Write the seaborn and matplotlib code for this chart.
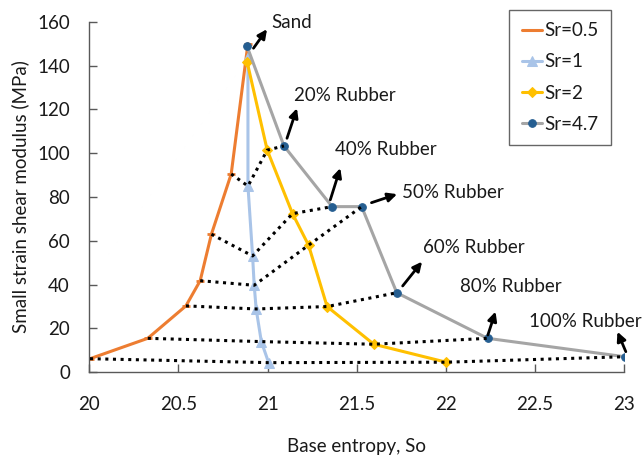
import numpy as np
import pandas as pd
import matplotlib
matplotlib.use("Agg")
import matplotlib.pyplot as plt
import seaborn as sns

sns.set_theme(style="white")
plt.rcParams['font.family'] = ['Lato', 'DejaVu Sans']

# ---- data ----
rubber = ["Sand", "20%", "40%", "50%", "60%", "80%", "100%"]
series = ["Sr=0.5", "Sr=1", "Sr=2", "Sr=4.7"]

x_sr05 = [20.89, 20.796, 20.685, 20.622, 20.542, 20.328, 20.004]
y_sr05 = [150.0, 90.5, 63.0, 41.8, 30.3, 15.5, 6.2]

x_sr1 = [20.89, 20.89, 20.916, 20.925, 20.936, 20.965, 21.006]
y_sr1 = [144.0, 85.0, 53.1, 39.7, 28.9, 14.0, 4.4]

x_sr2 = [20.886, 20.998, 21.14, 21.23, 21.334, 21.596, 22.002]
y_sr2 = [141.4, 101.4, 72.4, 58.0, 30.0, 12.8, 4.6]

x_sr47 = [20.884, 21.092, 21.362, 21.528, 21.725, 22.234, 23.004]
y_sr47 = [149.0, 103.3, 75.6, 75.6, 36.3, 15.5, 7.1]

xs = [x_sr05, x_sr1, x_sr2, x_sr47]
ys = [y_sr05, y_sr1, y_sr2, y_sr47]

rows = []
for s, xv, yv in zip(series, xs, ys):
    for r, a, b in zip(rubber, xv, yv):
        rows.append({"Sr": s, "rubber": r, "x": a, "y": b})
df = pd.DataFrame(rows)

# annotation labels (text, arrow tail, arrow head, text pos) in data units
ann_text = ["Sand", "20% Rubber", "40% Rubber", "50% Rubber", "60% Rubber", "80% Rubber", "100% Rubber"]
ann_tail = [(20.921, 147.9), (21.109, 106.8), (21.352, 78.7), (21.583, 77.4),
            (21.758, 39.4), (22.236, 17.0), (23.01, 9.4)]
ann_head = [(20.997, 156.6), (21.165, 120.5), (21.408, 93.2), (21.727, 81.3),
            (21.867, 50.5), (22.279, 27.7), (22.963, 18.5)]
ann_pos = [(21.019, 159.6), (21.146, 126.2), (21.376, 101.8), (21.755, 82.0),
           (21.871, 56.9), (22.077, 39.1), (22.466, 23.1)]

# ---- styling ----
FS = 13.5
TXT = "#1a1a1a"
line_colors = {"Sr=0.5": "#ED7D31", "Sr=1": "#A9C4E8", "Sr=2": "#FFC000", "Sr=4.7": "#A5A5A5"}
marker_style = {
    "Sr=0.5": dict(marker="_", markersize=6, markerfacecolor="#ED7D31", markeredgecolor="#ED7D31", markeredgewidth=2),
    "Sr=1": dict(marker="^", markersize=7, markerfacecolor="#A9C4E8", markeredgecolor="#A9C4E8"),
    "Sr=2": dict(marker="D", markersize=5.5, markerfacecolor="#FFC000", markeredgecolor="#FFC000"),
    "Sr=4.7": dict(marker="o", markersize=5.5, markerfacecolor="#255E91", markeredgecolor="#255E91"),
}

fig = plt.figure(figsize=(6.44, 4.55), dpi=100)
ax = fig.add_axes([0.1387, 0.1818, 0.8303, 0.7705])

for s in series:
    sub = df[df["Sr"] == s]
    sns.lineplot(data=sub, x="x", y="y", sort=False, estimator=None, ax=ax,
                 color=line_colors[s], linewidth=2.2, label=s, zorder=2,
                 **marker_style[s])

# dotted connectors for equal rubber content
conn = df[df["rubber"] != "Sand"]
sns.lineplot(data=conn, x="x", y="y", units="rubber", estimator=None, sort=False,
             ax=ax, color="black", linewidth=2.2, linestyle=(0, (1, 1.5)), zorder=3,
             legend=False)

for t, tail, head, pos in zip(ann_text, ann_tail, ann_head, ann_pos):
    ax.annotate("", xy=head, xytext=tail, xycoords="data", textcoords="data",
                arrowprops=dict(arrowstyle="-|>,head_length=0.45,head_width=0.22",
                                color="black", lw=2, shrinkA=0, shrinkB=0),
                annotation_clip=False, zorder=5)
    ax.text(pos[0], pos[1], t, fontsize=FS, ha="left", va="center",
            color=TXT, clip_on=False, zorder=5)

ax.set_xlim(20, 23)
ax.set_ylim(0, 160)
ax.set_xticks([20, 20.5, 21, 21.5, 22, 22.5, 23])
ax.set_xticklabels(["20", "20.5", "21", "21.5", "22", "22.5", "23"])
ax.set_yticks(np.arange(0, 161, 20))

for side in ["top", "right"]:
    ax.spines[side].set_visible(False)
for side in ["left", "bottom"]:
    ax.spines[side].set_color("#595959")
    ax.spines[side].set_linewidth(1.0)
ax.tick_params(axis="both", direction="in", length=6, width=1, color="#595959",
               labelsize=FS, labelcolor=TXT, bottom=True, left=True)
ax.tick_params(axis="y", pad=14)
ax.tick_params(axis="x", pad=17)

ax.set_xlabel("Base entropy, So", fontsize=FS, color=TXT, labelpad=18)
ax.set_ylabel("Small strain shear modulus (MPa)", fontsize=FS, color=TXT, labelpad=6)

leg = ax.legend(loc="upper left", bbox_to_anchor=(0.791, 0.978), bbox_transform=fig.transFigure,
                frameon=True, fancybox=False, fontsize=FS, borderaxespad=0,
                labelspacing=0.76, handlelength=1.1, handletextpad=0.1,
                borderpad=0.65)
leg.get_frame().set_edgecolor("#404040")
leg.get_frame().set_linewidth(1.0)
for txt in leg.get_texts():
    txt.set_color(TXT)

fig.savefig("out.png", dpi=100)
